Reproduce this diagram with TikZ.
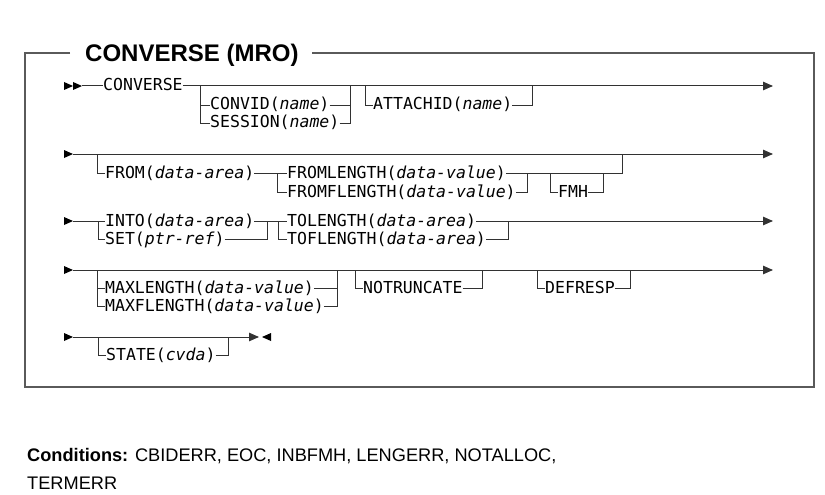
\documentclass[tikz,border=0pt]{standalone}
\usepackage{fontspec}
\setmainfont{Liberation Sans}
\newfontfamily\synfont{DejaVu Sans Mono}
\usetikzlibrary{arrows.meta}
\definecolor{linec}{RGB}{50,50,50}
\definecolor{boxc}{RGB}{90,90,90}
\begin{document}
\begin{tikzpicture}[x=1pt,y=-1pt,
  syn/.style={font=\synfont\fontsize{16.5}{18}\selectfont, inner sep=0pt, anchor=west, text height=11pt, text depth=1pt},
  rr/.style={draw=linec, line width=1pt},
  endarrow/.style={-{Triangle[length=10pt,width=8.5pt]}},
  tip/.style={fill=black},
]
\useasboundingbox (0,0) rectangle (825,495);

% frame and title
\node[font=\bfseries\fontsize{24}{28}\selectfont, anchor=west, inner sep=0pt, text height=17.2pt, text depth=0pt] (title) at (85,53) {CONVERSE (MRO)};
\coordinate (tl) at (25,53);
\coordinate (tr) at (814,53);
\coordinate (bl) at (25,387);
\coordinate (br) at (814,387);
\draw[boxc, line width=1.8pt] ([xshift=-15pt]title.west) -- (tl) -- (bl) -- (br) -- (tr) -- ([xshift=13pt]title.east);

% ---------- row 1 ----------
\fill[tip] (64,82) -- (73,86) -- (64,90) -- cycle;
\fill[tip] (73,82) -- (82,86) -- (73,90) -- cycle;
\coordinate (s1) at (82,86);
\coordinate (e1) at (773,86);
\node[syn] (converse) at (103,86) {CONVERSE};
\draw[rr] (s1) -- (converse.west);
\draw[rr,endarrow] (converse.east) -- (e1);
\coordinate (b1L) at (200,86);
\coordinate (b1R) at (350,86);
\node[syn] (convid) at (210,105) {CONVID(\textit{name})};
\node[syn] (session) at (210,123) {SESSION(\textit{name})};
\draw[rr] (b1L) |- (session.west);
\draw[rr] (b1L |- convid.west) -- (convid.west);
\draw[rr] (convid.east) -- (b1R |- convid.east);
\draw[rr] (session.east) -| (b1R);
\coordinate (b2L) at (365,86);
\coordinate (b2R) at (532,86);
\node[syn] (attach) at (373,105) {ATTACHID(\textit{name})};
\draw[rr] (b2L) |- (attach.west);
\draw[rr] (attach.east) -| (b2R);

% ---------- row 2 ----------
\fill[tip] (64,150) -- (73,154) -- (64,158) -- cycle;
\coordinate (s2) at (73,154);
\coordinate (e2) at (773,154);
\draw[rr,endarrow] (s2) -- (e2);
\coordinate (b3L) at (97,154);
\coordinate (b3R) at (622,154);
\node[syn] (from) at (105,173) {FROM(\textit{data-area})};
\draw[rr] (b3L) |- (from.west);
\node[syn] (fromlen) at (287,173) {FROMLENGTH(\textit{data-value})};
\node[syn] (fromflen) at (287,192) {FROMFLENGTH(\textit{data-value})};
\draw[rr] (from.east) -- (fromlen.west);
\coordinate (b4L) at (277,173);
\coordinate (b4R) at (527,173);
\draw[rr] (b4L) |- (fromflen.west);
\draw[rr] (fromlen.east) -- (b4R);
\draw[rr] (fromflen.east) -| (b4R);
\draw[rr] (b4R) -| (b3R);
\coordinate (b5L) at (550,173);
\coordinate (b5R) at (603,173);
\node[syn] (fmh) at (558,192) {FMH};
\draw[rr] (b5L) |- (fmh.west);
\draw[rr] (fmh.east) -| (b5R);

% ---------- row 3 ----------
\fill[tip] (64,217) -- (73,221) -- (64,225) -- cycle;
\coordinate (s3) at (73,221);
\coordinate (e3) at (773,221);
\coordinate (b6L) at (98,221);
\coordinate (b6R) at (267,221);
\node[syn] (into) at (105,221) {INTO(\textit{data-area})};
\node[syn] (set) at (105,239) {SET(\textit{ptr-ref})};
\draw[rr] (s3) -- (into.west);
\draw[rr] (b6L) |- (set.west);
\draw[rr] (into.east) -- (b6R);
\draw[rr] (set.east) -| (b6R);
\node[syn] (tolen) at (287,221) {TOLENGTH(\textit{data-area})};
\node[syn] (toflen) at (287,239) {TOFLENGTH(\textit{data-area})};
\draw[rr] (b6R) -- (tolen.west);
\coordinate (b7L) at (278,221);
\coordinate (b7R) at (508,221);
\draw[rr] (b7L) |- (toflen.west);
\draw[rr,endarrow] (tolen.east) -- (e3);
\draw[rr] (toflen.east) -| (b7R);

% ---------- row 4 ----------
\fill[tip] (64,266) -- (73,270) -- (64,274) -- cycle;
\coordinate (s4) at (73,270);
\coordinate (e4) at (773,270);
\draw[rr,endarrow] (s4) -- (e4);
\coordinate (b8L) at (97,270);
\coordinate (b8R) at (337,270);
\node[syn] (maxlen) at (105,288) {MAXLENGTH(\textit{data-value})};
\node[syn] (maxflen) at (105,306) {MAXFLENGTH(\textit{data-value})};
\draw[rr] (b8L) |- (maxflen.west);
\draw[rr] (b8L |- maxlen.west) -- (maxlen.west);
\draw[rr] (maxlen.east) -- (b8R |- maxlen.east);
\draw[rr] (maxflen.east) -| (b8R);
\coordinate (b9L) at (355,270);
\coordinate (b9R) at (482,270);
\node[syn] (notrunc) at (363,288) {NOTRUNCATE};
\draw[rr] (b9L) |- (notrunc.west);
\draw[rr] (notrunc.east) -| (b9R);
\coordinate (b10L) at (537,270);
\coordinate (b10R) at (630,270);
\node[syn] (defresp) at (545,288) {DEFRESP};
\draw[rr] (b10L) |- (defresp.west);
\draw[rr] (defresp.east) -| (b10R);

% ---------- row 5 ----------
\fill[tip] (64,333) -- (73,337) -- (64,341) -- cycle;
\coordinate (s5) at (73,337);
\coordinate (e5) at (259,337);
\draw[rr,endarrow] (s5) -- (e5);
\fill[tip] (271,333) -- (262,337) -- (271,341) -- cycle;
\coordinate (b11L) at (98,337);
\coordinate (b11R) at (228,337);
\node[syn] (state) at (106,355) {STATE(\textit{cvda})};
\draw[rr] (b11L) |- (state.west);
\draw[rr] (state.east) -| (b11R);

% ---------- conditions ----------
\node[anchor=base west, inner sep=0pt, font=\fontsize{18.2}{28}\selectfont] (cond) at (27,461.5) {\textbf{Conditions:} CBIDERR, EOC, INBFMH, LENGERR, NOTALLOC,};
\node[anchor=base west, inner sep=0pt, font=\fontsize{18.2}{28}\selectfont] (cond2) at (27,489.5) {TERMERR};
\end{tikzpicture}
\end{document}
